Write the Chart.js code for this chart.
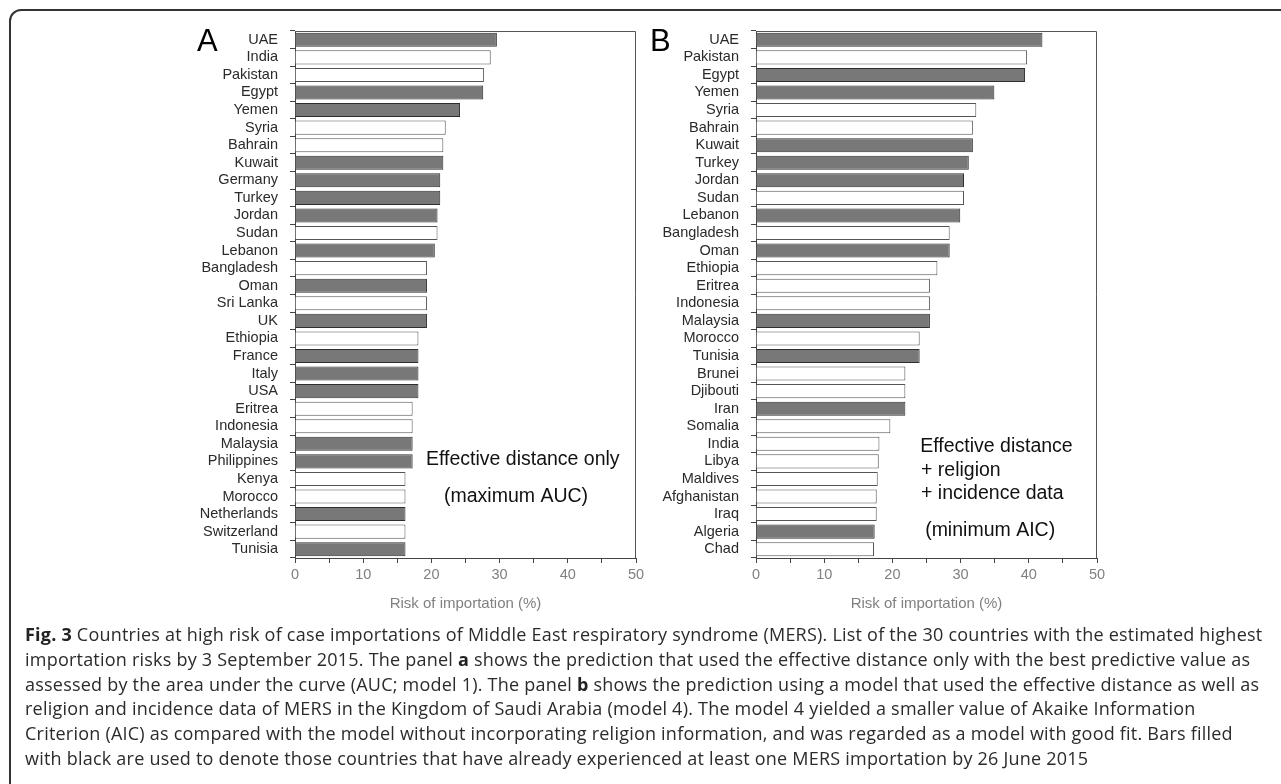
<!DOCTYPE html>
<html>
<head>
<meta charset="utf-8">
<script src="https://cdn.jsdelivr.net/npm/chart.js@4.4.1/dist/chart.umd.min.js"></script>
<style>
  html, body { margin:0; padding:0; background:#fff; width:1281px; height:784px; overflow:hidden; position:relative; }
  #frame { position:absolute; left:9px; top:9px; width:1400px; height:900px; border:2px solid #333; border-top-left-radius:12px; box-sizing:border-box; }
  .cv { position:absolute; top:0; }
  .panel { position:absolute; font-family:'Liberation Sans', Arial, sans-serif; font-size:31px; color:#000; line-height:1; }
  #caption { position:absolute; left:25px; top:622px; font-family:'Open Sans', sans-serif; font-size:18px; letter-spacing:0.22px; line-height:24.8px; color:#2b2b2b; white-space:nowrap; }
  #caption b { font-weight:700; color:#222; }
</style>
</head>
<body>
<div id="frame"></div>
<div class="cv" style="left:170px;"><canvas id="chartA" width="480" height="640"></canvas></div>
<div class="cv" style="left:631px;"><canvas id="chartB" width="480" height="640"></canvas></div>
<div class="panel" style="left:197px; top:25px;">A</div>
<div class="panel" style="left:650px; top:25px;">B</div>
<div id="caption"><b>Fig. 3</b> Countries at high risk of case importations of Middle East respiratory syndrome (MERS). List of the 30 countries with the estimated highest<br>importation risks by 3 September 2015. The panel <b>a</b> shows the prediction that used the effective distance only with the best predictive value as<br>assessed by the area under the curve (AUC; model 1). The panel <b>b</b> shows the prediction using a model that used the effective distance as well as<br>religion and incidence data of MERS in the Kingdom of Saudi Arabia (model 4). The model 4 yielded a smaller value of Akaike Information<br>Criterion (AIC) as compared with the model without incorporating religion information, and was regarded as a model with good fit. Bars filled<br>with black are used to denote those countries that have already experienced at least one MERS importation by 26 June 2015</div>
<script>
// ---- Data ----
const countriesA = ['UAE','India','Pakistan','Egypt','Yemen','Syria','Bahrain','Kuwait','Germany','Turkey','Jordan','Sudan','Lebanon','Bangladesh','Oman','Sri Lanka','UK','Ethiopia','France','Italy','USA','Eritrea','Indonesia','Malaysia','Philippines','Kenya','Morocco','Netherlands','Switzerland','Tunisia'];
const riskA = [29.6,28.7,27.7,27.6,24.2,22.1,21.75,21.75,21.3,21.3,20.9,20.9,20.5,19.35,19.35,19.35,19.35,18.1,18.1,18.1,18.1,17.25,17.25,17.25,17.25,16.2,16.2,16.2,16.2,16.2];
const importedA = [1,0,0,1,1,0,0,1,1,1,1,0,1,0,1,0,1,0,1,1,1,0,0,1,1,0,0,1,0,1];

const countriesB = ['UAE','Pakistan','Egypt','Yemen','Syria','Bahrain','Kuwait','Turkey','Jordan','Sudan','Lebanon','Bangladesh','Oman','Ethiopia','Eritrea','Indonesia','Malaysia','Morocco','Tunisia','Brunei','Djibouti','Iran','Somalia','India','Libya','Maldives','Afghanistan','Iraq','Algeria','Chad'];
const riskB = [42.0,39.75,39.45,34.95,32.3,31.8,31.8,31.2,30.5,30.5,29.95,28.4,28.4,26.6,25.5,25.5,25.5,24.0,24.0,21.9,21.9,21.9,19.7,18.1,18.0,17.85,17.7,17.7,17.4,17.3];
const importedB = [1,0,1,1,0,0,1,1,1,0,1,0,1,0,0,0,1,0,1,0,0,1,0,0,0,0,0,0,1,0];

const xTicks = [0,10,20,30,40,50];
const xTitle = 'Risk of importation (%)';
const notesA = ['Effective distance only', '(maximum AUC)'];
const notesB = ['Effective distance', '+ religion', '+ incidence data', '(minimum AIC)'];

// ---- Helpers ----
const FONT = "'Liberation Sans', Arial, sans-serif";

const framePlugin = {
  id: 'frame',
  afterDatasetsDraw(chart, args, opts) {
    const {ctx, chartArea: {left, top, right, bottom}} = chart;
    ctx.save();
    ctx.strokeStyle = '#555';
    ctx.lineWidth = 1;
    ctx.beginPath();
    ctx.moveTo(left, top + 0.5);
    ctx.lineTo(right - 0.5, top + 0.5);
    ctx.lineTo(right - 0.5, bottom);
    ctx.stroke();
    const xs = chart.scales.x, ys = chart.scales.y;
    ctx.fillStyle = '#111';
    ctx.font = '19.5px ' + FONT;
    ctx.textAlign = 'left';
    ctx.textBaseline = 'middle';
    (opts.notes || []).forEach(n => {
      ctx.fillText(n.text, xs.getPixelForValue(n.x), ys.getPixelForValue(n.y));
    });
    ctx.restore();
  }
};

function makeChart(id, labels, values, imported, notes) {
  return new Chart(document.getElementById(id), {
    type: 'bar',
    data: {
      labels: labels,
      datasets: [{
        data: values,
        backgroundColor: imported.map(v => v ? '#787878' : '#ffffff'),
        borderColor: imported.map(v => v ? '#2e2e2e' : '#555555'),
        borderWidth: 1,
        borderSkipped: 'start',
        categoryPercentage: 1.0,
        barPercentage: 0.8
      }]
    },
    options: {
      indexAxis: 'y',
      responsive: false,
      animation: false,
      devicePixelRatio: 1,
      layout: { padding: { top: 31, right: 14, left: 0, bottom: 12 } },
      plugins: {
        legend: { display: false },
        tooltip: { enabled: false },
        frame: { notes: notes }
      },
      scales: {
        y: {
          type: 'category',
          offset: true,
          grid: { offset: true, drawOnChartArea: false, drawTicks: true, tickLength: 5, color: '#444', tickColor: '#444' },
          border: { display: true, color: '#444', width: 1 },
          ticks: { color: '#2a2a2a', font: { family: FONT, size: 14.5 }, padding: 12, autoSkip: false },
          afterFit(scale) { scale.width = 125; }
        },
        x: {
          min: 0, max: 50,
          grid: { drawOnChartArea: false, drawTicks: true, tickLength: 5, color: '#444', tickColor: '#444' },
          border: { display: true, color: '#444', width: 1 },
          ticks: {
            stepSize: 5,
            color: '#808080',
            font: { family: FONT, size: 14.5 },
            padding: 3,
            maxRotation: 0,
            autoSkip: false,
            callback: v => xTicks.includes(v) ? String(v) : ''
          },
          title: { display: true, text: xTitle, color: '#808080', font: { family: FONT, size: 15 }, padding: { top: 0, bottom: 15 } },
          afterFit(scale) { scale.height = 70; }
        }
      }
    },
    plugins: [framePlugin]
  });
}

makeChart('chartA', countriesA, riskA, importedA, [
  { text: notesA[0], x: 19.2, y: 23.9 },
  { text: notesA[1], x: 21.85, y: 26.02 }
]);
makeChart('chartB', countriesB, riskB, importedB, [
  { text: notesB[0], x: 24.08, y: 23.18 },
  { text: notesB[1], x: 24.2, y: 24.54 },
  { text: notesB[2], x: 24.2, y: 25.85 },
  { text: notesB[3], x: 24.8, y: 27.96 }
]);
</script>
</body>
</html>
